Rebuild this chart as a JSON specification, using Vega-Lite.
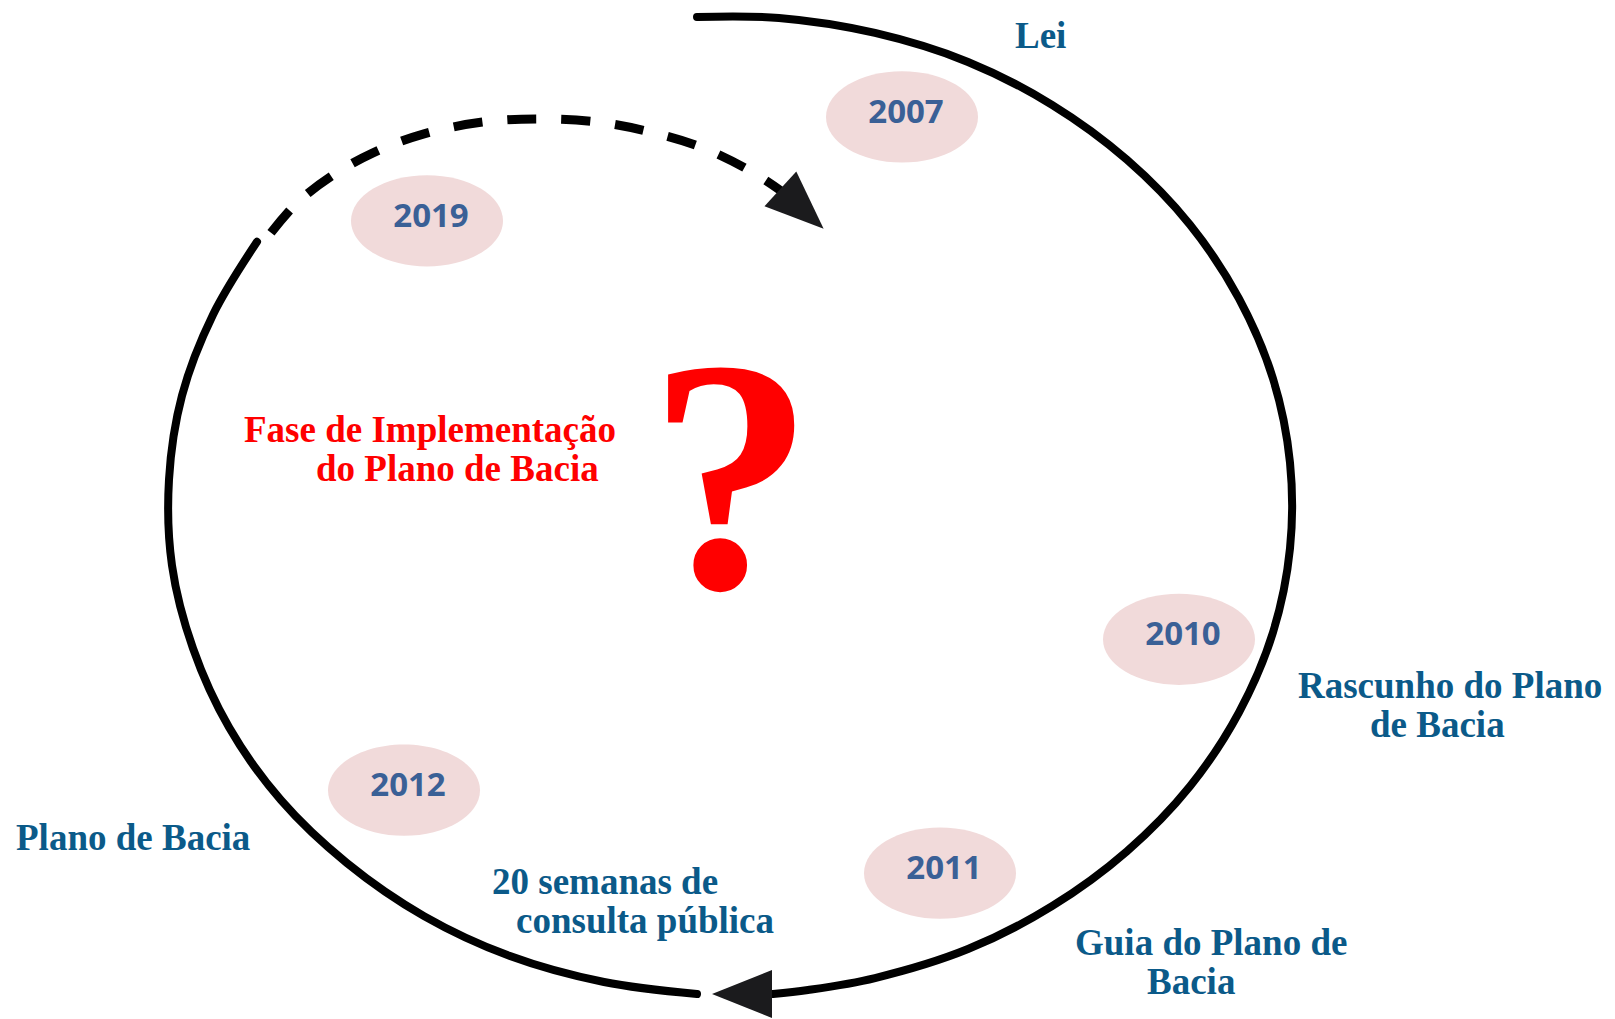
{
  "$schema": "https://vega.github.io/schema/vega-lite/v6.json",
  "width": 1615,
  "height": 1019,
  "autosize": {"type": "fit", "contains": "padding"},
  "padding": 0,
  "background": "white",
  "config": {"view": {"stroke": null}},
  "datasets": {
    "ringA": [
      {"i": 1, "x": 697, "y": 16}, {"i": 2, "x": 779, "y": 17}, {"i": 3, "x": 875, "y": 32},
      {"i": 4, "x": 968, "y": 61}, {"i": 5, "x": 1052, "y": 104}, {"i": 6, "x": 1127, "y": 159},
      {"i": 7, "x": 1190, "y": 224}, {"i": 8, "x": 1239, "y": 298}, {"i": 9, "x": 1273, "y": 378},
      {"i": 10, "x": 1290, "y": 462}, {"i": 11, "x": 1290, "y": 548}, {"i": 12, "x": 1273, "y": 632},
      {"i": 13, "x": 1239, "y": 712}, {"i": 14, "x": 1190, "y": 786}, {"i": 15, "x": 1127, "y": 851},
      {"i": 16, "x": 1052, "y": 906}, {"i": 17, "x": 968, "y": 949}, {"i": 18, "x": 875, "y": 978},
      {"i": 19, "x": 808, "y": 990}, {"i": 20, "x": 773, "y": 994}
    ],
    "ringB": [
      {"i": 1, "x": 697, "y": 994}, {"i": 2, "x": 604, "y": 982}, {"i": 3, "x": 510, "y": 956},
      {"i": 4, "x": 424, "y": 916}, {"i": 5, "x": 347, "y": 863}, {"i": 6, "x": 281, "y": 800},
      {"i": 7, "x": 229, "y": 727}, {"i": 8, "x": 193, "y": 648}, {"i": 9, "x": 172, "y": 565},
      {"i": 10, "x": 169, "y": 479}, {"i": 11, "x": 182, "y": 395}, {"i": 12, "x": 213, "y": 314},
      {"i": 13, "x": 257, "y": 241}
    ],
    "dashed": [
      {"i": 1, "x": 271, "y": 232}, {"i": 2, "x": 296, "y": 203}, {"i": 3, "x": 332, "y": 175},
      {"i": 4, "x": 373, "y": 152}, {"i": 5, "x": 424, "y": 133}, {"i": 6, "x": 484, "y": 121},
      {"i": 7, "x": 538, "y": 118}, {"i": 8, "x": 597, "y": 121}, {"i": 9, "x": 650, "y": 131},
      {"i": 10, "x": 703, "y": 147}, {"i": 11, "x": 752, "y": 171}, {"i": 12, "x": 781, "y": 190}
    ],
    "years": [
      {"year": "2007", "x": 902, "y": 116},
      {"year": "2019", "x": 427, "y": 220},
      {"year": "2010", "x": 1179, "y": 639},
      {"year": "2012", "x": 404, "y": 790},
      {"year": "2011", "x": 940, "y": 873}
    ],
    "blueLabels": [
      {"label": "Lei", "x": 1015, "y": 47},
      {"label": "Rascunho do Plano", "x": 1298, "y": 698},
      {"label": "de Bacia", "x": 1370, "y": 737},
      {"label": "Guia do Plano de", "x": 1075, "y": 955},
      {"label": "Bacia", "x": 1147, "y": 994},
      {"label": "Plano de Bacia", "x": 16, "y": 850},
      {"label": "20 semanas de", "x": 492, "y": 894},
      {"label": "consulta pública", "x": 516, "y": 933}
    ],
    "redLabels": [
      {"label": "Fase de Implementação", "x": 244, "y": 441},
      {"label": "do Plano de Bacia", "x": 316, "y": 480}
    ],
    "question": [{"label": "?", "x": 731, "y": 587}]
  },
  "encoding": {
    "x": {"field": "x", "type": "quantitative", "scale": {"domain": [0, 1615], "nice": false, "zero": false}, "axis": null},
    "y": {"field": "y", "type": "quantitative", "scale": {"domain": [0, 1019], "reverse": true, "nice": false, "zero": false}, "axis": null}
  },
  "layer": [
    {
      "data": {"name": "years"},
      "mark": {"type": "point", "shape": "M -1 0 C -1 -0.3314 -0.5523 -0.6 0 -0.6 C 0.5523 -0.6 1 -0.3314 1 0 C 1 0.3314 0.5523 0.6 0 0.6 C -0.5523 0.6 -1 0.3314 -1 0 Z", "size": 23104, "filled": true, "color": "#F1DADA", "opacity": 1, "strokeWidth": 0}
    },
    {
      "data": {"name": "ringA"},
      "mark": {"type": "line", "interpolate": "catmull-rom", "color": "#000000", "strokeWidth": 8, "strokeCap": "round"},
      "encoding": {"order": {"field": "i", "type": "quantitative"}}
    },
    {
      "data": {"name": "ringB"},
      "mark": {"type": "line", "interpolate": "catmull-rom", "color": "#000000", "strokeWidth": 8, "strokeCap": "round"},
      "encoding": {"order": {"field": "i", "type": "quantitative"}}
    },
    {
      "data": {"name": "dashed"},
      "mark": {"type": "line", "interpolate": "catmull-rom", "color": "#000000", "strokeWidth": 9, "strokeDash": [29, 25], "strokeCap": "butt"},
      "encoding": {"order": {"field": "i", "type": "quantitative"}}
    },
    {
      "data": {"values": [{"x": 742, "y": 994}]},
      "mark": {"type": "point", "shape": "M 1 0 L -1 -0.8 L -1 0.8 Z", "size": 3600, "filled": true, "color": "#1B1B1D", "opacity": 1, "angle": 180, "strokeWidth": 0}
    },
    {
      "data": {"values": [{"x": 802, "y": 208}]},
      "mark": {"type": "point", "shape": "M 1 0 L -1 -0.8 L -1 0.8 Z", "size": 3450, "filled": true, "color": "#1B1B1D", "opacity": 1, "angle": 42.6, "strokeWidth": 0}
    },
    {
      "data": {"name": "years"},
      "mark": {"type": "text", "font": "Open Sans", "fontWeight": "bold", "fontSize": 33, "color": "#3A6096", "align": "center", "baseline": "middle", "dx": 4, "dy": -4},
      "encoding": {"text": {"field": "year", "type": "nominal"}}
    },
    {
      "data": {"name": "blueLabels"},
      "mark": {"type": "text", "font": "Liberation Serif", "fontWeight": "bold", "fontSize": 37, "color": "#0B5A89", "align": "left", "baseline": "alphabetic"},
      "encoding": {"text": {"field": "label", "type": "nominal"}}
    },
    {
      "data": {"name": "redLabels"},
      "mark": {"type": "text", "font": "Liberation Serif", "fontWeight": "bold", "fontSize": 37, "color": "#FF0000", "align": "left", "baseline": "alphabetic"},
      "encoding": {"text": {"field": "label", "type": "nominal"}}
    },
    {
      "data": {"name": "question"},
      "mark": {"type": "text", "font": "Liberation Serif", "fontWeight": "bold", "fontSize": 332, "color": "#FF0000", "align": "center", "baseline": "alphabetic"},
      "encoding": {"text": {"field": "label", "type": "nominal"}}
    }
  ]
}
